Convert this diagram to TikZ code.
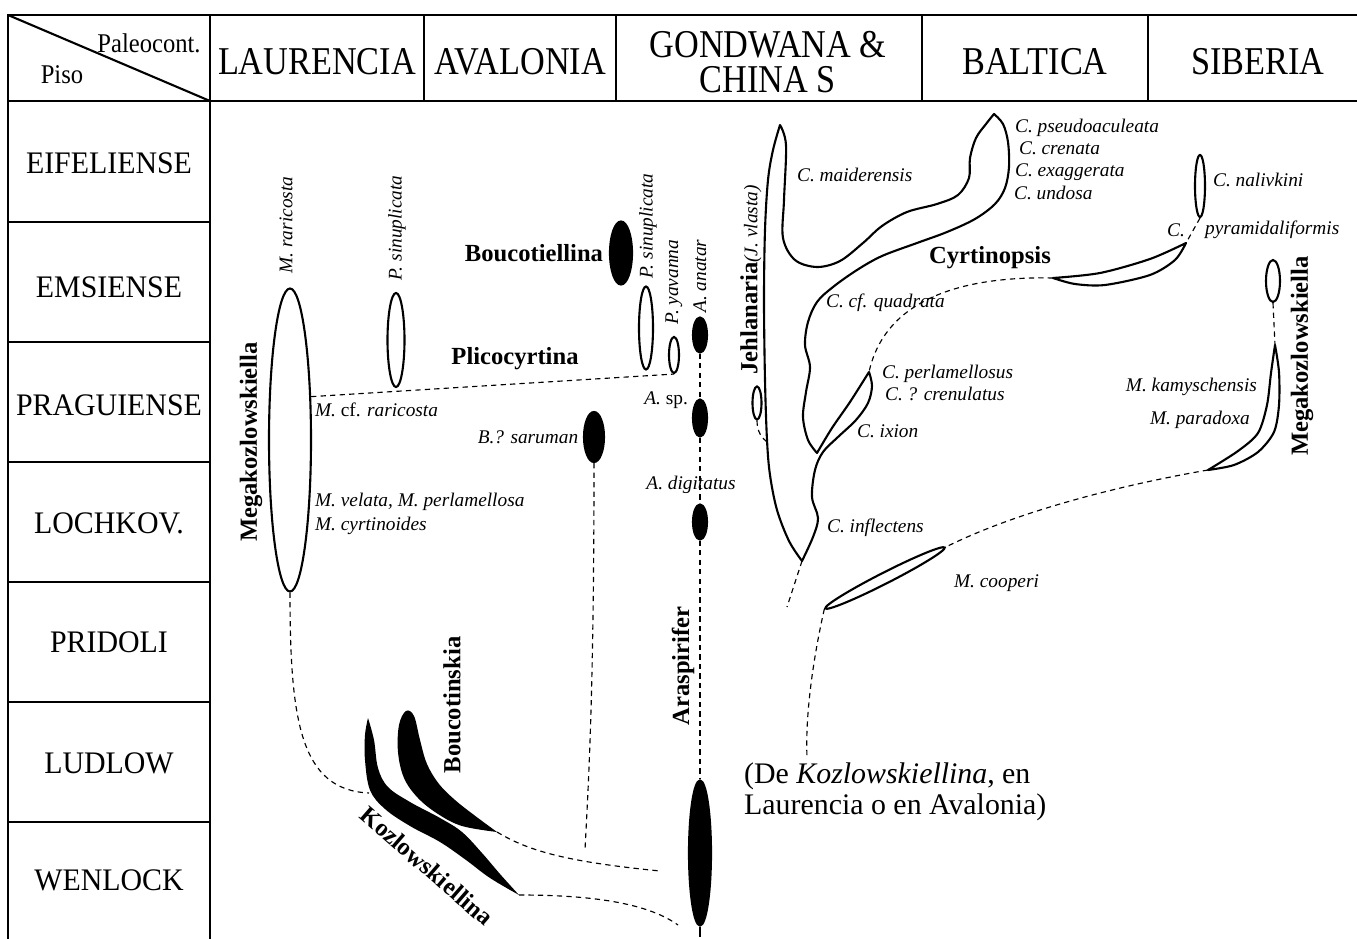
\documentclass[tikz,border=0pt]{standalone}
\usepackage{fontspec}
\setmainfont{Liberation Serif}
\usetikzlibrary{shapes.geometric}

\begin{document}
\begin{tikzpicture}[
    x=0.02cm, y=-0.02cm,
    grid/.style={line width=1.2pt},
    rng/.style 2 args={ellipse, draw, line width=1.2pt, inner sep=0pt,
                minimum width=#1*0.02cm, minimum height=#2*0.02cm},
    frng/.style 2 args={rng={#1}{#2}, fill=black},
    link/.style={line width=0.65pt, dash pattern=on 3pt off 2.4pt},
    outl/.style={line width=1.2pt, line join=round},
    sp/.style={font=\fontsize{11}{13}\selectfont\itshape, inner sep=1pt},
    gen/.style={font=\fontsize{14}{16}\selectfont\bfseries, inner sep=1pt},
    piso/.style={font=\fontsize{17}{19}\selectfont, yscale=1.05},
    cont/.style={font=\fontsize{19.5}{17.5}\selectfont, align=center, yscale=1.15}
]
\useasboundingbox[fill=white] (0,0) rectangle (1357,939);

% Table frame
\draw[grid] (8,939) -- (8,15) -- (1357,15);
\draw[grid] (8,101) -- (1357,101);
\draw[grid] (8,15) -- (210,101);
\draw[grid] (210,15) -- (210,939);
\draw[grid] (424,15) -- (424,101) (616,15) -- (616,101)
            (922,15) -- (922,101) (1148,15) -- (1148,101);
\draw[grid] (8,222) -- (210,222) (8,342) -- (210,342) (8,462) -- (210,462)
            (8,582) -- (210,582) (8,702) -- (210,702) (8,822) -- (210,822);

\node[font=\fontsize{14}{16}\selectfont, yscale=1.1] (hPaleo) at (149,43) {Paleocont.};
\node[font=\fontsize{14}{16}\selectfont, yscale=1.1] (hPiso) at (62,75) {Piso};
\node[cont] (hLau) at (317,62) {LAURENCIA};
\node[cont] (hAva) at (520,62) {AVALONIA};
\node[cont] (hGon) at (768,62) {GONDWANA \&\\CHINA S};
\node[cont] (hBal) at (1035,62) {BALTICA};
\node[cont] (hSib) at (1258,62) {SIBERIA};

\node[piso] (rEif) at (109,163) {EIFELIENSE};
\node[piso] (rEms) at (109,287) {EMSIENSE};
\node[piso] (rPrag) at (109,405) {PRAGUIENSE};
\node[piso] (rLoch) at (109,523) {LOCHKOV.};
\node[piso] (rPrid) at (109,642) {PRIDOLI};
\node[piso] (rLud) at (109,763) {LUDLOW};
\node[piso] (rWen) at (109,880) {WENLOCK};

% Laurencia
\node[rng={42}{303}] (megaL) at (290,440) {};
\node[rng={17}{94}] (psinL) at (396,340) {};
\node[sp, rotate=90] (lMrar) at (286,225) {M. raricosta};
\node[sp, rotate=90] (lPsinL) at (397,228) {P. sinuplicata};
\node[gen, rotate=90] (lMegaL) at (251,442) {Megakozlowskiella};
\node[sp, anchor=west] (lMcf) at (313,410) {M. \textup{cf.} raricosta};
\node[sp, anchor=west] (lMvel) at (313,502) {M. velata, M. perlamellosa};
\node[sp, anchor=west] (lMcyr) at (313,526) {M. cyrtinoides};

% Avalonia - Gondwana
\node[gen] (lPlico) at (515,359) {Plicocyrtina};
\node[gen] (lBouc) at (534,253) {Boucotiellina};
\node[frng={22}{63}] (bouc) at (621,253) {};
\node[rng={14}{83}] (psinG) at (646,328) {};
\node[rng={10}{36}] (pyav) at (674,355) {};
\node[sp, rotate=90] (lPsinG) at (648,226) {P. sinuplicata};
\node[sp, rotate=90] (lPyav) at (674,282) {P. yavanna};
\node[sp, rotate=90] (lAnat) at (700,276) {A. anatar};
\node[frng={14}{35}] (anat) at (700,335) {};
\node[frng={14}{37}] (asp) at (700,418) {};
\node[frng={14}{35}] (adig) at (700,522) {};
\node[frng={22}{145}] (arasp) at (700,853) {};
\coordinate (stem) at (700,937);
\node[sp, anchor=east] (lAsp) at (690,400) {A. \textup{sp.}};
\node[sp] (lAdig) at (691,485) {A. digitatus};
\node[gen, rotate=90] (lArasp) at (683,666) {Araspirifer};
\node[frng={20}{50}] (bsar) at (594,437) {};
\node[sp] (lBsar) at (528,437) {B.? saruman};
\coordinate (sarEnd) at (585,850);

% Silurian forms
\fill plot[smooth, tension=0.6] coordinates {(368,718) (374,740) (378,768) (388,787)
      (410,802) (440,818) (462,832) (482,853) (500,874) (519,895)}
  -- plot[smooth, tension=0.6] coordinates {(519,895) (490,878) (466,860) (440,842)
      (410,826) (385,809) (370,790) (365,760) (365,735) (368,718)} -- cycle;
\coordinate (kzTip) at (519,895);
\coordinate (kzIn) at (369,793);
\coordinate (kzEnd) at (678,925);
\fill plot[smooth, tension=0.6] coordinates {(497,832) (462,826) (438,814) (418,798)
      (404,778) (398,752) (399,725) (406,711) (414,716) (420,740) (427,764)
      (439,784) (455,800) (474,815) (497,832)} -- cycle;
\coordinate (bkTip) at (497,832);
\coordinate (bkEnd) at (660,871);
\node[gen, rotate=90] (lBtk) at (452,705) {Boucotinskia};
\node[gen, rotate=-41] (lKozl) at (427,866) {Kozlowskiellina};
\node[font=\fontsize{17}{17.6}\selectfont, align=left, anchor=west] (lDe) at (738,792)
      {(De \textit{Kozlowskiellina}, en\\Laurencia o en Avalonia)};

% Jehlanaria - Cyrtinopsis
\draw[outl] plot[smooth, tension=0.55] coordinates {(780,125) (786,145) (784,200) (783,238)
      (795,260) (817,267) (840,261) (863,243) (882,226) (907,212) (937,204) (958,195)
      (969,178) (970,158) (976,138) (986,124) (994,114)}
  -- plot[smooth, tension=0.55] coordinates {(994,114) (1003,124) (1008,142) (1009,167)
      (1005,188) (995,204) (975,219) (947,232) (917,243) (882,256) (857,270) (833,287)
      (817,302) (808,322) (805,345) (810,367) (806,392) (803,417) (808,440) (817,453)}
  -- plot[smooth] coordinates {(817,453) (832,428) (850,402) (869,372)}
  -- plot[smooth, tension=0.55] coordinates {(869,372) (872,386) (868,403) (856,420)
      (838,437) (823,452) (815,470) (812,497) (818,518) (813,537) (802,561)}
  -- plot[smooth, tension=0.55] coordinates {(802,561) (789,541) (777,510) (770,475)
      (767,440) (765,380) (764,300) (765,230) (768,180) (773,150) (780,125)} -- cycle;
\coordinate (jTip) at (802,561);
\coordinate (jEnd) at (787,607);
\coordinate (jJoin) at (767,442);
\coordinate (cIx) at (869,372);
\node[rng={9}{33}] (jehl) at (757,403) {};
\node[rotate=90, inner sep=1pt] (lJehl) at (751,280)
      {\fontsize{14}{16}\selectfont\bfseries Jehlanaria\fontsize{11}{13}\selectfont\mdseries\itshape(J. vlasta)};
\node[sp, anchor=west] (lMaid) at (795,175) {C. maiderensis};
\node[sp, anchor=west] (lPseu) at (1013,128) {C. pseudoaculeata};
\node[sp, anchor=west] (lCren) at (1017,148) {C. crenata};
\node[sp, anchor=west] (lExag) at (1013,172) {C. exaggerata};
\node[sp, anchor=west] (lUnd) at (1012,193) {C. undosa};
\node[gen] (lCyrt) at (990,258) {Cyrtinopsis};
\node[sp, anchor=west] (lQuad) at (824,303) {C. cf. quadrata};
\node[sp, anchor=west] (lPerl) at (880,374) {C. perlamellosus};
\node[sp, anchor=west] (lCrnl) at (883,394) {C. ? crenulatus};
\node[sp, anchor=west] (lIxi) at (855,431) {C. ixion};
\node[sp, anchor=west] (lInfl) at (825,528) {C. inflectens};

\draw[outl] plot[smooth] coordinates {(1053,278) (1100,273) (1150,259) (1186,243)}
  -- plot[smooth] coordinates {(1186,243) (1175,260) (1150,275) (1105,285) (1075,284) (1053,278)} -- cycle;
\coordinate (cyL) at (1053,278);
\coordinate (cyR) at (1186,243);
\node[rng={134}{11}, rotate=27] (mcoop) at (885,578) {};
\node[sp, anchor=west] (lCoop) at (952,583) {M. cooperi};
\coordinate (coopEnd) at (807,757);

% Siberia
\node[rng={10}{62}] (nal) at (1200,186) {};
\node[sp, anchor=west] (lNal) at (1211,180) {C. nalivkini};
\node[sp] (lPyrC) at (1176,230) {C.};
\node[sp, anchor=west] (lPyr) at (1203,230) {pyramidaliformis};
\node[rng={14}{42}] (msib) at (1273,281) {};
\draw[outl] plot[smooth] coordinates {(1275,345) (1279,372) (1279,405) (1274,432) (1258,452) (1234,465) (1208,470)}
  -- plot[smooth] coordinates {(1208,470) (1238,451) (1258,433) (1267,405) (1271,373) (1275,345)} -- cycle;
\coordinate (mskTop) at (1275,345);
\coordinate (mskBot) at (1208,470);
\node[gen, rotate=90] (lMegaS) at (1302,356) {Megakozlowskiella};
\node[sp, anchor=east] (lKamy) at (1259,387) {M. kamyschensis};
\node[sp, anchor=east] (lPara) at (1252,420) {M. paradoxa};

% Links
\draw[link] (megaL.64) -- (pyav.south);
\draw[link] (megaL.south) .. controls (290,720) and (300,790) .. (kzIn);
\draw[link] (bsar.south) .. controls (594,700) and (588,790) .. (sarEnd);
\draw[link] (bkTip) .. controls (530,852) and (570,862) .. (bkEnd);
\draw[link] (kzTip) .. controls (600,895) and (650,905) .. (kzEnd);
\draw[link] (anat.south) -- (asp.north);
\draw[link] (asp.south) -- (adig.north);
\draw[link] (adig.south) -- (arasp.north);
\draw[line width=1.2pt] (arasp.south) -- (stem);
\draw[link] (jehl.south) .. controls (757,432) and (762,438) .. (jJoin);
\draw[link] (jTip) -- (jEnd);
\draw[link] (cyL) .. controls (960,276) and (885,300) .. (cIx);
\draw[link] (nal.south) -- (cyR);
\draw[link] (msib.south) -- (mskTop);
\draw[link] (mskBot) .. controls (1150,480) and (1030,505) .. (mcoop.east);
\draw[link] (mcoop.west) .. controls (815,650) and (805,710) .. (coopEnd);

\end{tikzpicture}
\end{document}
